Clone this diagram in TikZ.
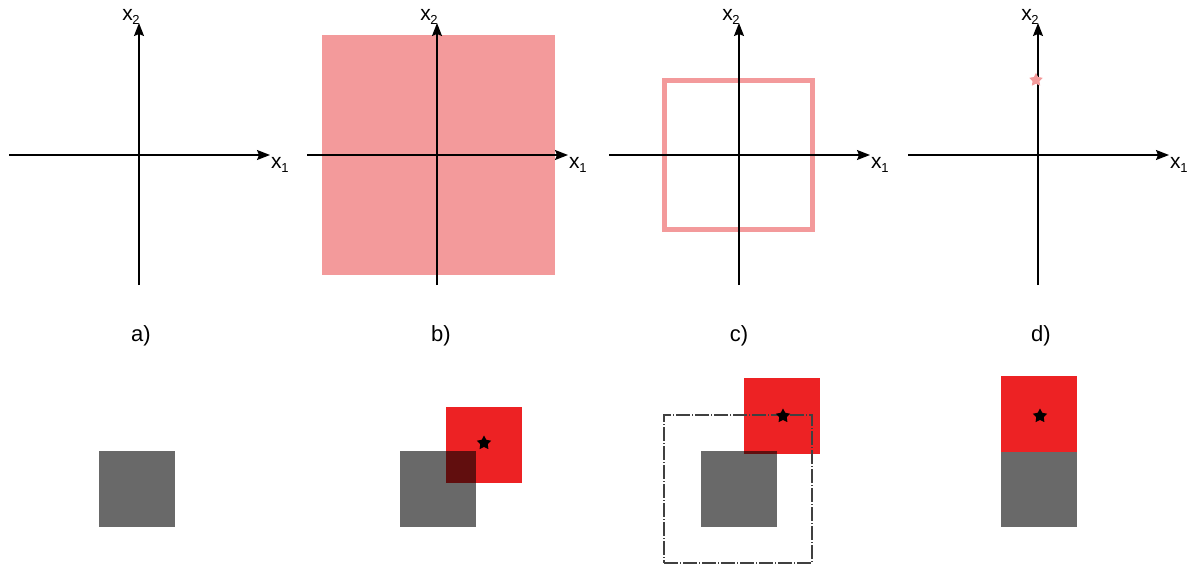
\documentclass[tikz,border=0pt]{standalone}
\usepackage{fontspec}
\setmainfont{Liberation Sans}
\usepackage{xcolor}
\usepackage{tikz}
\usetikzlibrary{shapes.geometric, arrows.meta, positioning}
\definecolor{boxpink}{HTML}{F39A9B}
\definecolor{boxred}{HTML}{ED2224}
\newcommand{\lowsub}[1]{\kern-0.3pt\raisebox{-0.35ex}{\fontsize{13}{13}\selectfont #1}}

\begin{document}
\begin{tikzpicture}[
    x=1pt, y=-1pt,
    axisline/.style={line width=1.4pt, -{Stealth[length=13pt,width=10pt,inset=2pt]}},
    axislabel/.style={font=\fontsize{21}{21}\selectfont, inner sep=0pt},
    panellabel/.style={font=\fontsize{22}{22}\selectfont, inner sep=0pt},
    regionfill/.style={fill=boxpink, draw=none},
    regionedge/.style={draw=boxpink, line width=5pt},
    blockgray/.style={fill=black, fill opacity=0.59, draw=none, minimum size=76pt, inner sep=0pt},
    blockred/.style={fill=boxred, draw=none, minimum size=76pt, inner sep=0pt},
    targetstar/.style={star, star points=5, star point ratio=1.9, fill=black, draw=none, minimum size=15pt, inner sep=0pt},
    searchbox/.style={draw=black!75, line width=1.3pt, dash pattern=on 14pt off 2pt on 1pt off 2pt},
  ]
    \useasboundingbox (0,0) rectangle (1187,563);

    % upper row: search regions
    \node[regionfill, minimum width=233pt, minimum height=240pt, inner sep=0pt] (regionb) at (438.5,155) {};
    \node[regionedge, minimum width=148pt, minimum height=149pt, inner sep=0pt] (regionc) at (738,154.5) {};

    \foreach \nm/\ox in {a/139, b/437, c/739, d/1038} {
      \draw[axisline] (\ox-130,155) -- (\ox+131,155);
      \draw[axisline] (\ox,285) -- (\ox,23);
      \node[axislabel, anchor=west] (xone\nm) at (\ox+132,165) {x\lowsub{1}};
      \node[axislabel] (xtwo\nm) at (\ox-8,17) {x\lowsub{2}};
    }

    \node[targetstar, fill=boxpink, minimum size=14pt] (pointd) at (1036,80) {};

    % panel captions
    \node[panellabel] (capa) at (141,336) {a)};
    \node[panellabel] (capb) at (441,336) {b)};
    \node[panellabel] (capc) at (739,336) {c)};
    \node[panellabel] (capd) at (1041,336) {d)};

    % lower row: blocks
    \node[blockgray] (graya) at (137,489) {};

    \node[blockred] (redb) at (484,445) {};
    \node[blockgray] (grayb) at (437.5,489) {};
    \node[targetstar] (starb) at (484,443) {};

    \node[blockred] (redc) at (782,415.5) {};
    \node[blockgray] (grayc) at (739,489) {};
    \node[searchbox, minimum width=148pt, minimum height=148pt, inner sep=0pt] (searchc) at (738,489) {};
    \node[targetstar] (starc) at (783,416) {};

    \node[blockred] (redd) at (1038.5,414) {};
    \node[blockgray, minimum height=75pt] (grayd) at (1038.5,489.5) {};
    \node[targetstar] (stard) at (1040,416) {};
  \end{tikzpicture}
\end{document}
